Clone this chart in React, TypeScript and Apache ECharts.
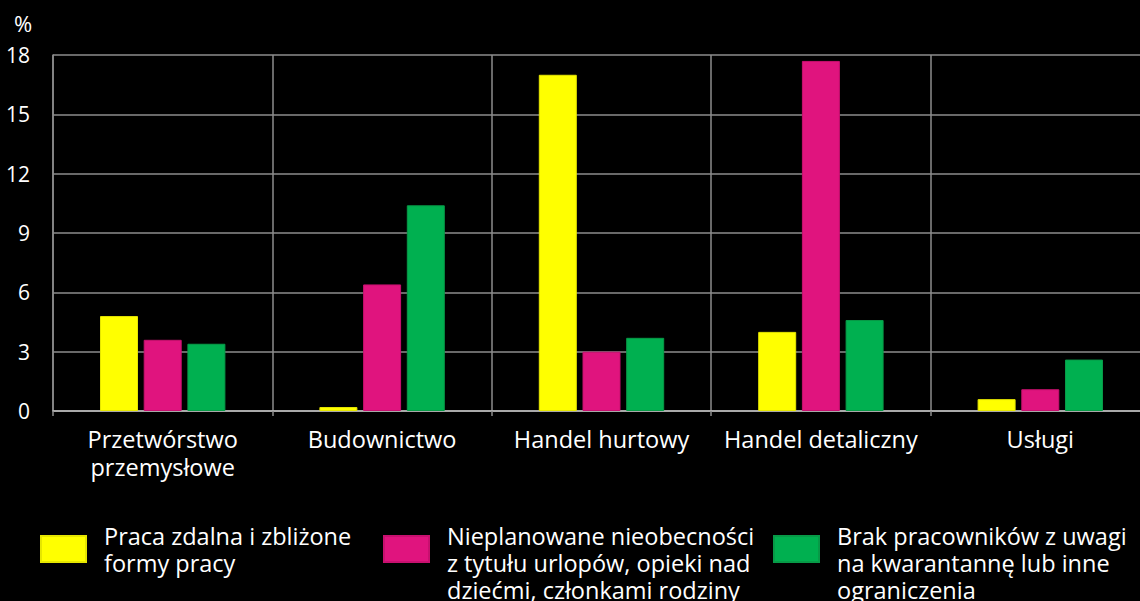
import React, { useEffect, useRef } from "react";
import * as echarts from "echarts";

const categories = ["Przetwórstwo\nprzemysłowe", "Budownictwo", "Handel hurtowy", "Handel detaliczny", "Usługi"];
const seriesNames = [
  "Praca zdalna i zbliżone formy pracy",
  "Nieplanowane nieobecności z tytułu urlopów, opieki nad dziećmi, członkami rodziny",
  "Brak pracowników z uwagi na kwarantannę lub inne ograniczenia",
];
const legendLabels = [
  "Praca zdalna i zbliżone\nformy pracy",
  "\nNieplanowane nieobecności\nz tytułu urlopów, opieki nad\ndziećmi, członkami rodziny",
  "\nBrak pracowników z uwagi\nna kwarantannę lub inne\nograniczenia",
];
const remoteWork = [4.8, 0.2, 17.0, 4.0, 0.6];
const absences = [3.6, 6.4, 3.0, 17.7, 1.1];
const shortage = [3.4, 10.4, 3.7, 4.6, 2.6];
const yTicks = [0, 3, 6, 9, 12, 15, 18];

const colors = ["#FFFF00", "#E0147E", "#00B050"];
const borders = ["#E6E600", "#C8106F", "#079A47"];
const FONT = "'Open Sans', sans-serif";

export default function App() {
  const ref = useRef<HTMLDivElement>(null);
  useEffect(() => {
    document.body.style.margin = "0";
    document.body.style.background = "#000";
    const chart = echarts.init(ref.current!, null, { renderer: "svg" });
    const data = [remoteWork, absences, shortage];
    const legendLefts = [35, 378, 768];
    const legendTops = [517, 490, 490];
    chart.setOption({
      animation: false,
      backgroundColor: "#000000",
      textStyle: { fontFamily: FONT },
      graphic: [
        {
          type: "text",
          left: 14,
          top: 12,
          style: { text: "%", fill: "#ffffff", font: `22px ${FONT}` },
        },
      ],
      grid: {
        left: 53,
        top: 55,
        bottom: 190,
        right: -10,
        containLabel: false,
        outerBoundsMode: "none",
      },
      legend: seriesNames.map((name, i) => ({
        data: [name],
        left: legendLefts[i],
        top: legendTops[i],
        orient: "horizontal",
        itemWidth: 45,
        itemHeight: 26,
        itemGap: 18,
        icon: "rect",
        selectedMode: false,
        formatter: () => legendLabels[i],
        textStyle: {
          color: "#ffffff",
          fontSize: 23.5,
          lineHeight: 27,
          fontFamily: FONT,
          padding: [0, 0, 0, 13],
        },
      })),
      xAxis: {
        type: "category",
        data: categories,
        boundaryGap: true,
        axisLine: { show: true, lineStyle: { color: "#bfbfbf", width: 1.5 } },
        axisTick: { show: true, length: 5, lineStyle: { color: "#8c8c8c", width: 1.5 } },
        splitLine: { show: true, lineStyle: { color: "#8c8c8c", width: 1.5 } },
        axisLabel: {
          color: "#ffffff",
          fontSize: 23.5,
          lineHeight: 28,
          margin: 14,
          interval: 0,
          fontFamily: FONT,
        },
      },
      yAxis: {
        type: "value",
        min: 0,
        max: 18,
        interval: 3,
        axisLine: { show: true, lineStyle: { color: "#8c8c8c", width: 1.5 } },
        axisTick: { show: false },
        splitLine: { show: true, lineStyle: { color: "#8c8c8c", width: 1.5 } },
        axisLabel: {
          color: "#ffffff",
          fontSize: 21,
          margin: 23,
          fontFamily: FONT,
          formatter: (v: number) => (yTicks.includes(v) ? String(v) : ""),
        },
      },
      series: seriesNames.map((name, i) => ({
        name,
        type: "bar",
        data: data[i],
        barWidth: 38,
        barGap: "15%",
        itemStyle: { color: colors[i], borderColor: borders[i], borderWidth: 1 },
      })),
    });
    return () => chart.dispose();
  }, []);
  return <div ref={ref} style={{ width: 1140, height: 601 }} />;
}
